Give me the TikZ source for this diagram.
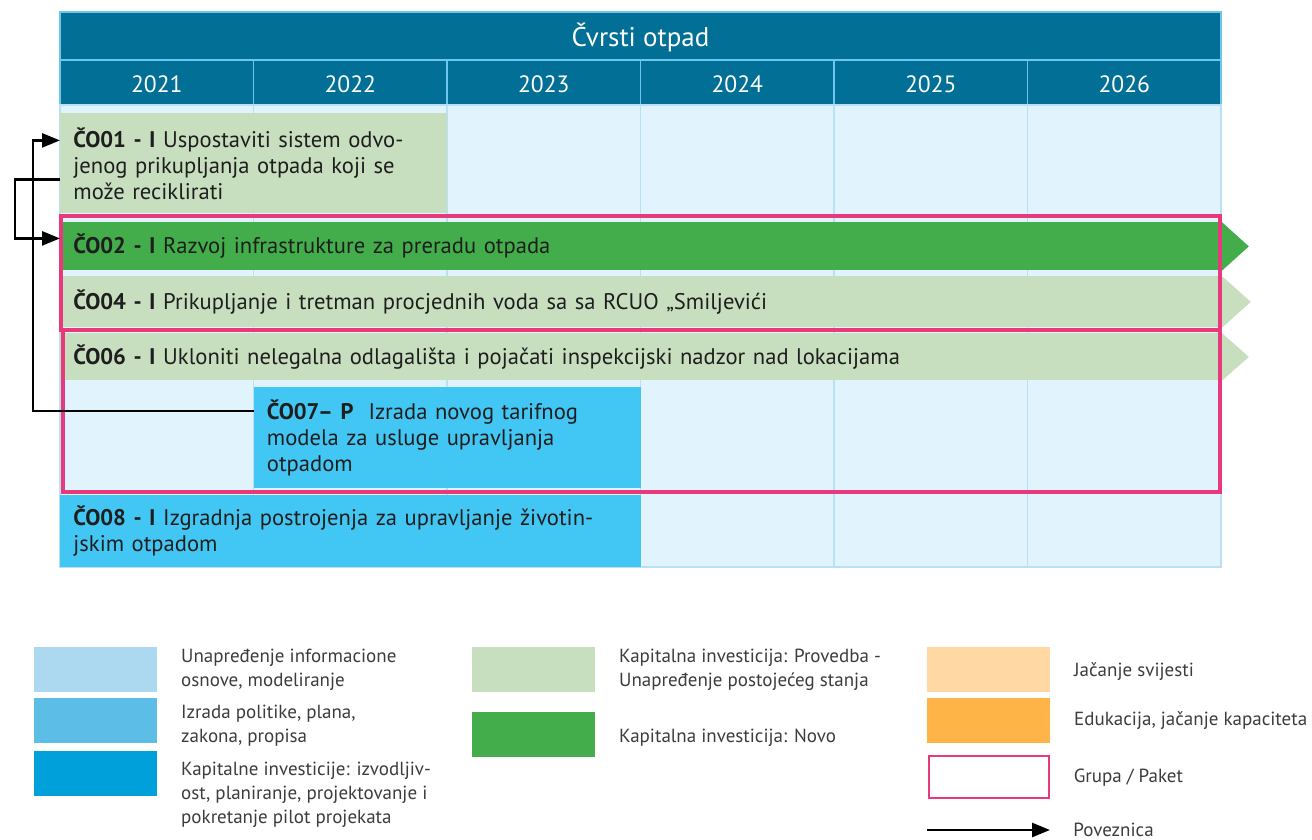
\documentclass[tikz,border=0pt]{standalone}
\usepackage{fontspec}
\setmainfont{PT Sans}
\usetikzlibrary{arrows.meta,calc,positioning}

\definecolor{headblue}{RGB}{2,111,150}
\definecolor{headline}{RGB}{110,198,236}
\definecolor{cellblue}{RGB}{225,243,252}
\definecolor{cellline}{RGB}{185,225,245}
\definecolor{palegreen}{RGB}{200,223,191}
\definecolor{deepgreen}{RGB}{66,173,74}
\definecolor{skyblue}{RGB}{66,198,243}
\definecolor{grouppink}{RGB}{232,57,125}
\definecolor{lightinfo}{RGB}{172,217,240}
\definecolor{midinfo}{RGB}{92,190,230}
\definecolor{darkinfo}{RGB}{0,160,218}
\definecolor{paleorange}{RGB}{255,216,163}
\definecolor{deeporange}{RGB}{255,180,71}
\definecolor{bartext}{RGB}{30,30,30}
\definecolor{legendtext}{RGB}{60,60,60}

\tikzset{
  bar/.style={anchor=north west, inner xsep=6.5pt, inner ysep=0pt, align=left,
    text=bartext, font=\fontsize{11.3}{13}\selectfont},
  group/.style={draw=grouppink, line width=1.8pt},
  link/.style={line width=1.3pt, -{Triangle[length=9pt,width=7pt]}},
  legbox/.style={anchor=north west, minimum width=61.5pt, minimum height=22.5pt, inner sep=0pt},
  legtext/.style={inner sep=0pt, align=left, text=legendtext, font=\fontsize{9.5}{12}\selectfont},
  yearlabel/.style={text=white, font=\fontsize{11.8}{13}\selectfont}
}

\begin{document}
\begin{tikzpicture}[x=0.5pt,y=-0.5pt]
\useasboundingbox (0,0) rectangle (1312,840);

% header
\fill[headblue] (60,12) rectangle (1221,105);
\draw[headline, line width=0.6pt] (60,12) rectangle (1221,105) (60,60) -- (1221,60);
\node[yearlabel, font=\fontsize{13.5}{15}\selectfont] (title) at (640.5,37) {Čvrsti otpad};
\foreach \yr [count=\i from 0] in {2021,2022,2023,2024,2025,2026}
  \node[yearlabel] (y\yr) at ({60+193.5*(\i+0.5)},84) {\yr};
\foreach \i in {1,...,5}
  \draw[headline, line width=0.6pt] ({60+193.5*\i},60) -- ({60+193.5*\i},105);

% body cells
\fill[cellblue] (60,105) rectangle (1221,567);
\foreach \i in {1,...,5}
  \draw[cellline, line width=0.6pt] ({60+193.5*\i},105) -- ({60+193.5*\i},567);
\draw[cellline, line width=0.6pt] (60,105) rectangle (1221,567);

% bars
\node[bar, fill=palegreen, text width=180.5pt, minimum height=50pt] (c01) at (60,113)
  {\textbf{ČO01 - I} Uspostaviti sistem odvo-\\jenog prikupljanja otpada koji se\\može reciklirati};
\node[bar, fill=deepgreen, text width=567.5pt, minimum height=24pt] (c02) at (60,222)
  {\textbf{ČO02 - I} Razvoj infrastrukture za preradu otpada};
\node[bar, fill=palegreen, text width=567.5pt, minimum height=25.5pt] (c04) at (60,276)
  {\textbf{ČO04 - I} Prikupljanje i tretman procjednih voda sa sa RCUO „Smiljevići};
\node[bar, fill=palegreen, text width=567.5pt, minimum height=23.5pt] (c06) at (60,333)
  {\textbf{ČO06 - I} Ukloniti nelegalna odlagališta i pojačati inspekcijski nadzor nad lokacijama};
\node[bar, fill=skyblue, text width=180.5pt, minimum height=50.5pt] (c07) at (253.5,387)
  {\textbf{ČO07– P}\ \ Izrada novog tarifnog\\modela za usluge upravljanja\\otpadom};
\node[bar, fill=skyblue, text width=277.25pt, minimum height=36pt] (c08) at (60,495)
  {\textbf{ČO08 - I} Izgradnja postrojenja za upravljanje životin-\\jskim otpadom};

% continuing tips
\fill[deepgreen] (c02.north east) -- ($(c02.east)+(27,0)$) -- (c02.south east) -- cycle;
\fill[palegreen] (c04.north east) -- ($(c04.east)+(29,0)$) -- (c04.south east) -- cycle;
\fill[palegreen] (c06.north east) -- ($(c06.east)+(27,0)$) -- (c06.south east) -- cycle;

% groups
\draw[group] (61,216) rectangle (1220,330);
\draw[group] (63,330) rectangle (1220,492);

% links
\draw[link] ($(c01.west)+(0,16)$) -- ++(-45,0) |- ($(c02.west)+(0,-8)$);
\draw[link] ($(c07.west)+(0,-27)$) -| ($(c01.west)+(-27,-23)$) -- ($(c01.west)+(0,-23)$);

% legend
\node[legbox, fill=lightinfo] (leg1) at (34,647) {};
\node[legbox, fill=midinfo] (leg2) at (34,698) {};
\node[legbox, fill=darkinfo] (leg3) at (34,751) {};
\node[legtext, right=11.5pt of leg1] (legt1) {Unapređenje informacione\\osnove, modeliranje};
\node[legtext, right=11.5pt of leg2, yshift=-2.5pt] (legt2) {Izrada politike, plana,\\zakona, propisa};
\node[legtext, right=11.5pt of leg3, yshift=-10.5pt] (legt3) {Kapitalne investicije: izvodljiv-\\ost, planiranje, projektovanje i\\pokretanje pilot projekata};

\node[legbox, fill=palegreen] (leg4) at (472,647) {};
\node[legbox, fill=deepgreen] (leg5) at (472,712) {};
\node[legtext, right=11.5pt of leg4] (legt4) {Kapitalna investicija: Provedba -\\Unapređenje postojećeg stanja};
\node[legtext, right=11.5pt of leg5, yshift=-1.5pt] (legt5) {Kapitalna investicija: Novo};

\node[legbox, fill=paleorange] (leg6) at (927,647) {};
\node[legbox, fill=deeporange] (leg7) at (927,698) {};
\node[legbox, draw=grouppink, line width=1.2pt, fill=white, minimum width=60pt, minimum height=21pt] (leg8) at (928,755) {};
\node[legtext, right=11.5pt of leg6, yshift=-1pt] (legt6) {Jačanje svijesti};
\node[legtext, right=11.5pt of leg7] (legt7) {Edukacija, jačanje kapaciteta};
\node[legtext, right=11.5pt of leg8] (legt8) {Grupa / Paket};
\coordinate (arrfrom) at (927,830);
\coordinate (arrto) at (1050,830);
\draw[link] (arrfrom) -- (arrto);
\node[legtext, right=11.5pt of arrto] (legt9) {Poveznica};
\end{tikzpicture}
\end{document}
